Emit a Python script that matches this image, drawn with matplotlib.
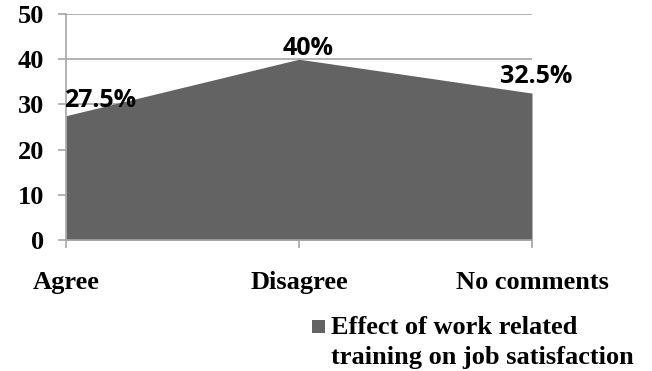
import matplotlib
matplotlib.use("Agg")
import matplotlib.pyplot as plt
from matplotlib.patches import Patch, Rectangle
from matplotlib.legend_handler import HandlerPatch

categories = ["Agree", "Disagree", "No comments"]
values = [27.5, 40, 32.5]
value_labels = ["27.5%", "40%", "32.5%"]
y_ticks = [0, 10, 20, 30, 40, 50]
series_name = "Effect of work related\ntraining on job satisfaction"

W, H = 652, 371
fig = plt.figure(figsize=(W / 100, H / 100), dpi=100)
ax = fig.add_axes([66 / W, 1 - 240 / H, (532 - 66) / W, (240 - 14) / H])

fill_color = "#636363"
grid_color = "#a6a6a6"
serif = {"family": "Liberation Serif", "weight": "bold", "size": 19}

x = list(range(len(categories)))
ax.fill_between(x, values, 0, color=fill_color, linewidth=0, zorder=2)

ax.set_xlim(0, len(categories) - 1)
ax.set_ylim(0, 50)
ax.set_yticks(y_ticks)
ax.set_xticks(x)
ax.set_yticklabels([str(t) for t in y_ticks], fontdict=serif)
ax.set_xticklabels(categories, fontdict=serif)

ax.grid(axis="y", color=grid_color, linewidth=1.2, zorder=1)
ax.set_axisbelow(True)
for side in ("top", "right"):
    ax.spines[side].set_visible(False)
for side in ("left", "bottom"):
    ax.spines[side].set_color(grid_color)
    ax.spines[side].set_linewidth(1.2)
    ax.spines[side].set_zorder(3)
ax.tick_params(axis="y", length=6, width=1.2, color=grid_color, pad=10)
ax.tick_params(axis="x", length=5.5, width=1.2, color=grid_color, pad=17)

# value labels: (dx in category units, baseline offset in data units)
offsets = [(0.146, 1.9), (0.04, 0.9), (0.017, 2.2)]
for xi, v, lab, (dx, dy) in zip(x, values, value_labels, offsets):
    ax.text(xi + dx, v + dy, lab, ha="center", va="baseline",
            fontsize=18, fontweight="bold", family="Open Sans",
            zorder=4, clip_on=False)


def top_square(legend, orig_handle, xdescent, ydescent, width, height, fontsize):
    # square marker next to the first line of the two-line label
    size = 13 * 0.72
    return Rectangle((-xdescent, -ydescent + 11.8), size, size)


handle = Patch(facecolor=fill_color, edgecolor="none")
leg = fig.legend([handle], [series_name], loc="upper left",
                 bbox_to_anchor=(312 / W, 1 - 316 / H), frameon=False,
                 prop=serif, handlelength=0.49, handleheight=0.49,
                 handletextpad=0.23, borderaxespad=0, borderpad=0,
                 handler_map={Patch: HandlerPatch(patch_func=top_square)})
leg.get_texts()[0].set_linespacing(1.38)

fig.savefig("out.png", dpi=100)
